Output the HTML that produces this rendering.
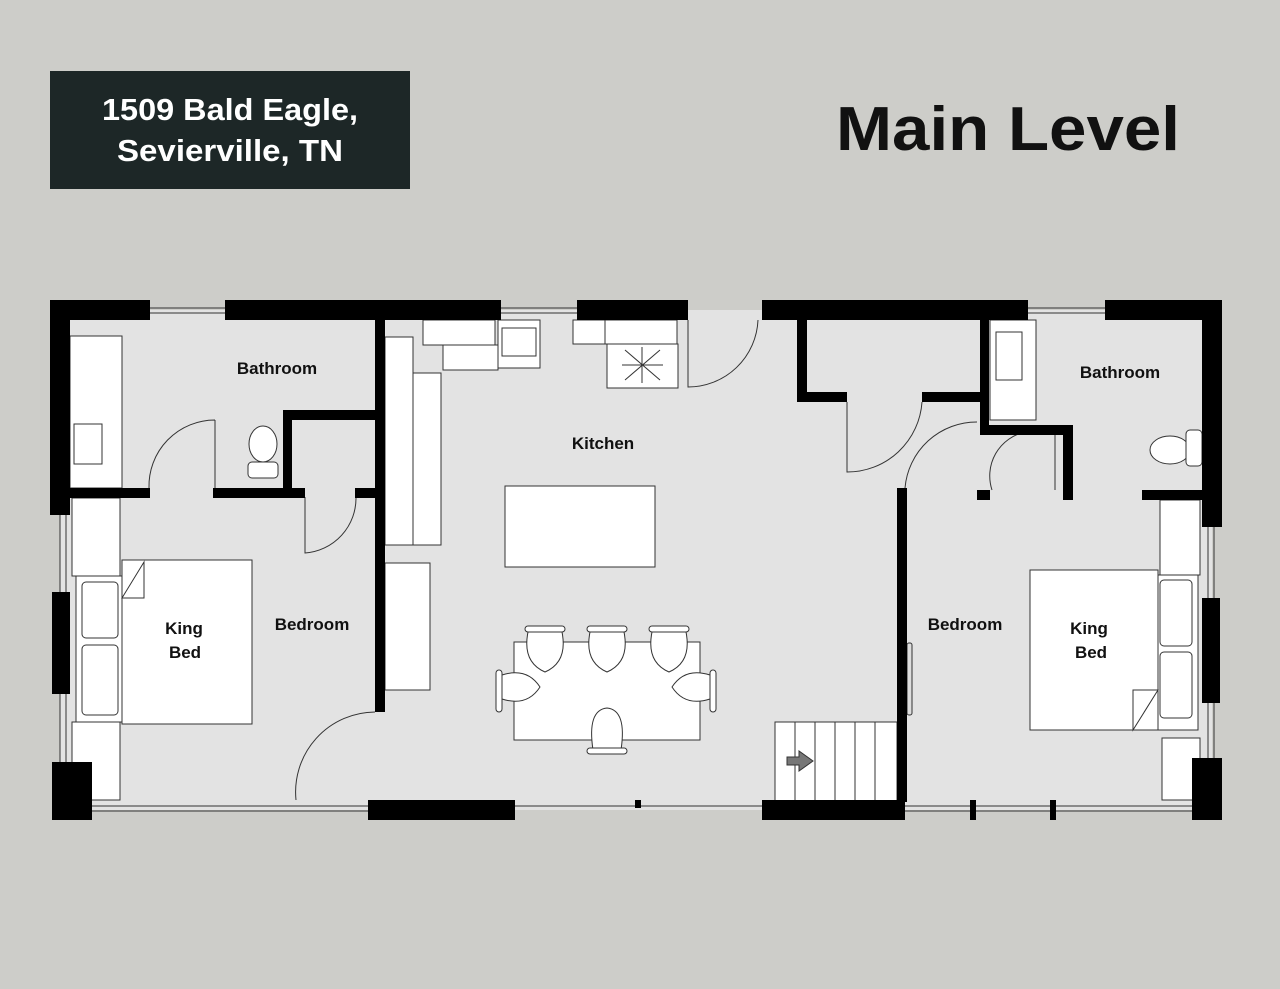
<!DOCTYPE html>
<html><head><style>
html,body{margin:0;padding:0;background:#cdcdc9;}
svg{display:block}
text{font-family:"Liberation Sans",Arial,sans-serif;font-weight:bold;}
</style></head><body>
<svg width="1280" height="989" viewBox="0 0 1280 989" xmlns="http://www.w3.org/2000/svg">
<rect width="1280" height="989" fill="#cdcdc9"/>
<rect x="50" y="71" width="360" height="118" fill="#1d2727"/>
<text x="230" y="120" fill="#fff" font-size="31" text-anchor="middle" textLength="256" lengthAdjust="spacingAndGlyphs">1509 Bald Eagle,</text>
<text x="230" y="161" fill="#fff" font-size="31" text-anchor="middle" textLength="226" lengthAdjust="spacingAndGlyphs">Sevierville, TN</text>
<text x="1008" y="150" fill="#111" font-size="62" text-anchor="middle" textLength="344" lengthAdjust="spacingAndGlyphs">Main Level</text>

<!-- floor -->
<rect x="60" y="310" width="1152" height="500" fill="#e3e3e3"/>

<g fill="#fff" stroke="#333" stroke-width="1">
<rect x="70" y="336" width="52" height="152"/>
<rect x="74" y="424" width="28" height="40" fill="none"/>
<rect x="72" y="498" width="48" height="78"/>
<rect x="72" y="722" width="48" height="78"/>
<rect x="76" y="576" width="46" height="146"/>
<rect x="82" y="582" width="36" height="56" rx="4"/>
<rect x="82" y="645" width="36" height="70" rx="4"/>
<rect x="122" y="560" width="130" height="164"/>
<path d="M122 598 L144 562 L144 598 Z"/>
<ellipse cx="263" cy="444" rx="14" ry="18"/>
<rect x="248" y="462" width="30" height="16" rx="4"/>
<rect x="385" y="337" width="28" height="208"/>
<rect x="413" y="373" width="28" height="172"/>
<rect x="385" y="563" width="45" height="127"/>
<rect x="423" y="320" width="72" height="25"/>
<rect x="443" y="345" width="55" height="25"/>
<rect x="498" y="320" width="42" height="48"/>
<rect x="502" y="328" width="34" height="28" fill="none"/>
<rect x="573" y="320" width="32" height="24"/>
<rect x="605" y="320" width="72" height="24"/>
<rect x="607" y="344" width="71" height="44"/>
<rect x="505" y="486" width="150" height="81"/>
<rect x="514" y="642" width="186" height="98"/>
<g>
<path d="M528 632 q-6 30 17 40 q23 -10 17 -40 Z"/>
<path d="M590 632 q-6 30 17 40 q23 -10 17 -40 Z"/>
<path d="M652 632 q-6 30 17 40 q23 -10 17 -40 Z"/>
<path d="M502 675 q25 -8 38 12 q-13 20 -38 12 Z"/>
<path d="M710 675 q-25 -8 -38 12 q13 20 38 12 Z"/>
<path d="M593 750 q-6 -40 14 -42 q20 2 14 42 Z"/>
<rect x="525" y="626" width="40" height="6" rx="3"/>
<rect x="587" y="626" width="40" height="6" rx="3"/>
<rect x="649" y="626" width="40" height="6" rx="3"/>
<rect x="496" y="670" width="6" height="42" rx="3"/>
<rect x="710" y="670" width="6" height="42" rx="3"/>
<rect x="587" y="748" width="40" height="6" rx="3"/>
</g>
<rect x="775" y="722" width="122" height="80"/>
<rect x="990" y="320" width="46" height="100"/>
<rect x="996" y="332" width="26" height="48" fill="none"/>
<ellipse cx="1170" cy="450" rx="20" ry="14"/>
<rect x="1186" y="430" width="16" height="36" rx="4"/>
<rect x="1160" y="500" width="40" height="75"/>
<rect x="1162" y="738" width="38" height="62"/>
<rect x="1156" y="575" width="42" height="155"/>
<rect x="1160" y="580" width="32" height="66" rx="4"/>
<rect x="1160" y="652" width="32" height="66" rx="4"/>
<rect x="1030" y="570" width="128" height="160"/>
<path d="M1158 690 L1133 730 L1133 690 Z"/>
</g>
<g stroke="#333" stroke-width="1">
<line x1="795" y1="722" x2="795" y2="800"/><line x1="815" y1="722" x2="815" y2="800"/>
<line x1="835" y1="722" x2="835" y2="800"/><line x1="855" y1="722" x2="855" y2="800"/>
<line x1="875" y1="722" x2="875" y2="800"/>
<line x1="625" y1="350" x2="660" y2="380"/><line x1="660" y1="350" x2="625" y2="380"/>
<line x1="642" y1="347" x2="642" y2="383"/><line x1="622" y1="365" x2="663" y2="365"/>
</g>
<path d="M787 757 h12 v-6 l14 10 l-14 10 v-6 h-12 Z" fill="#777" stroke="#333"/>

<g fill="none" stroke="#333" stroke-width="1">
<path d="M215 420 L215 488 M215 420 A66 66 0 0 0 149 488"/>
<path d="M305 497 L305 553 A55 55 0 0 0 356 497"/>
<path d="M375 712 A80 80 0 0 0 296 800"/>
<path d="M688 320 L688 387 A70 70 0 0 0 758 320"/>
<path d="M847 402 L847 472 A75 75 0 0 0 922 402"/>
<path d="M977 422 A72 72 0 0 0 905 488"/>
<path d="M1055 432 L1055 490 M1025 432 A45 45 0 0 0 992 490"/>
<rect x="907" y="643" width="5" height="72" rx="2" fill="#ddd"/>
</g>

<g stroke="#333" stroke-width="1" fill="none">
<line x1="149" y1="308" x2="225" y2="308"/><line x1="149" y1="313" x2="225" y2="313"/>
<line x1="501" y1="308" x2="577" y2="308"/><line x1="501" y1="313" x2="577" y2="313"/>
<line x1="1028" y1="308" x2="1105" y2="308"/><line x1="1028" y1="313" x2="1105" y2="313"/>
<line x1="60" y1="515" x2="60" y2="800"/><line x1="66" y1="515" x2="66" y2="800"/>
<line x1="1208" y1="527" x2="1208" y2="760"/><line x1="1214" y1="527" x2="1214" y2="760"/>
<line x1="92" y1="806" x2="368" y2="806"/><line x1="92" y1="811" x2="368" y2="811"/>
<line x1="515" y1="806" x2="762" y2="806"/>
<line x1="905" y1="806" x2="1192" y2="806"/><line x1="905" y1="811" x2="1192" y2="811"/>
</g>

<g fill="#000">
<rect x="50" y="300" width="100" height="20"/>
<rect x="225" y="300" width="276" height="20"/>
<rect x="577" y="300" width="111" height="20"/>
<rect x="762" y="300" width="266" height="20"/>
<rect x="1105" y="300" width="117" height="20"/>
<rect x="50" y="300" width="20" height="215"/>
<rect x="52" y="592" width="18" height="102"/>
<rect x="52" y="762" width="40" height="58"/>
<rect x="1202" y="300" width="20" height="227"/>
<rect x="1202" y="598" width="18" height="105"/>
<rect x="1192" y="758" width="30" height="62"/>
<rect x="70" y="800" width="22" height="20"/>
<rect x="368" y="800" width="147" height="20"/>
<rect x="762" y="800" width="143" height="20"/>
<rect x="970" y="800" width="6" height="20"/>
<rect x="1050" y="800" width="6" height="20"/>
<rect x="635" y="800" width="6" height="8"/>
<rect x="375" y="320" width="10" height="392"/>
<rect x="70" y="488" width="80" height="10"/>
<rect x="213" y="488" width="92" height="10"/>
<rect x="355" y="488" width="20" height="10"/>
<rect x="283" y="410" width="9" height="88"/>
<rect x="283" y="410" width="92" height="10"/>
<rect x="897" y="488" width="10" height="314"/>
<rect x="797" y="320" width="10" height="82"/>
<rect x="797" y="392" width="50" height="10"/>
<rect x="922" y="392" width="67" height="10"/>
<rect x="980" y="320" width="9" height="115"/>
<rect x="980" y="425" width="93" height="10"/>
<rect x="1063" y="425" width="10" height="75"/>
<rect x="977" y="490" width="13" height="10"/>
<rect x="1142" y="490" width="60" height="10"/>
</g>

<g fill="#111" font-size="17">
<text x="277" y="374" text-anchor="middle">Bathroom</text>
<text x="603" y="449" text-anchor="middle">Kitchen</text>
<text x="312" y="630" text-anchor="middle">Bedroom</text>
<text x="184" y="634" text-anchor="middle">King</text>
<text x="185" y="658" text-anchor="middle">Bed</text>
<text x="1120" y="378" text-anchor="middle">Bathroom</text>
<text x="965" y="630" text-anchor="middle">Bedroom</text>
<text x="1089" y="634" text-anchor="middle">King</text>
<text x="1091" y="658" text-anchor="middle">Bed</text>
</g>
</svg>
</body></html>
